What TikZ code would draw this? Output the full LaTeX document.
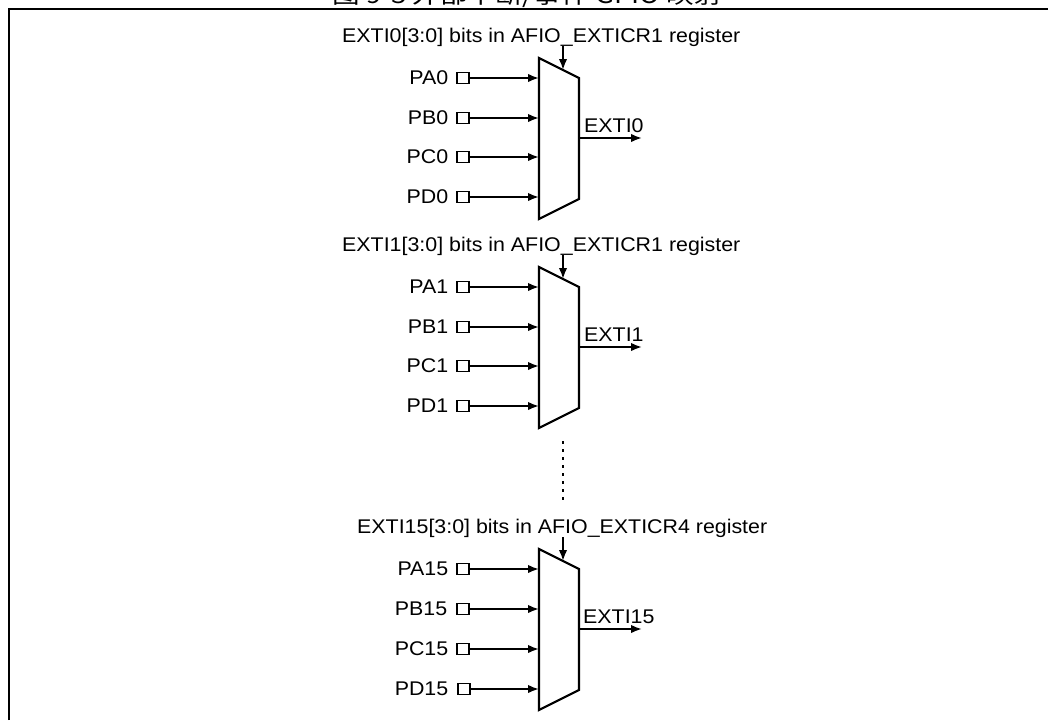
\documentclass[tikz,border=0pt]{standalone}
\usepackage{fontspec}
\setmainfont{Liberation Sans}[FakeStretch=1.08]
\newfontfamily\cjkfont{Noto Sans CJK SC}[FakeStretch=1.2]
\usetikzlibrary{arrows.meta, positioning, calc}

\begin{document}
\begin{tikzpicture}[x=1pt, y=-1pt,
  sig/.style={font=\fontsize{19.8}{21}\selectfont, inner sep=0pt},
  port/.style={sig, anchor=east},
  sel/.style={sig, anchor=base west},
  pad/.style={draw, fill=white, line width=1.1pt, minimum width=12pt, minimum height=11pt, inner sep=0pt},
  mux/.style={line width=2.2pt, line join=miter},
  line/.style={line width=1.9pt, -{Latex[length=11pt, width=8.5pt]}},
  dots/.style={line width=2.4pt, dash pattern=on 3pt off 5pt},
  frame/.style={line width=2.2pt}
]
\useasboundingbox (0,0) rectangle (1048,720);

% Titulo (cortado por el borde)
\begin{scope}
  \clip (0,0) rectangle (1048,720);
  \node[font=\cjkfont\fontsize{23}{25}\selectfont, inner sep=0pt, anchor=base] (title) at (527,3) {图 9-3 外部中断/事件 GPIO 映射};
\end{scope}
\draw[frame] (9,720) -- (9,9) -- (1048,9);

% Multiplexor EXTI0
\coordinate (mux0) at (539,58);
\draw[mux] (mux0) -- ++(40,20) -- ++(0,121) -- ++(-40,20) -- cycle;
\node[sel] (sel0) at (342,42) {EXTI0[3:0] bits in AFIO\_EXTICR1 register};
\node[pad] (pa0p) at (463,78) {};
\node[pad] (pb0p) at (463,118) {};
\node[pad] (pc0p) at (463,157) {};
\node[pad] (pd0p) at (463,197) {};
\node[port, left=8pt of pa0p] (pa0) {PA0};
\node[port, left=8pt of pb0p] (pb0) {PB0};
\node[port, left=8pt of pc0p] (pc0) {PC0};
\node[port, left=8pt of pd0p] (pd0) {PD0};
\draw[line] (pa0p.east) -- (pa0p -| mux0);
\draw[line] (pb0p.east) -- (pb0p -| mux0);
\draw[line] (pc0p.east) -- (pc0p -| mux0);
\draw[line] (pd0p.east) -- (pd0p -| mux0);
\draw[line] (sel0.south -| {$(mux0)+(24,0)$}) -- ($(mux0)+(24,12)$);
\coordinate (out0) at (642,138);
\node[sig, anchor=base west] (exti0) at (584,132) {EXTI0};
\draw[line] ($(mux0)+(40,80)$) -- (out0);

% Multiplexor EXTI1
\coordinate (mux1) at (539,267);
\draw[mux] (mux1) -- ++(40,20) -- ++(0,121) -- ++(-40,20) -- cycle;
\node[sel] (sel1) at (342,251) {EXTI1[3:0] bits in AFIO\_EXTICR1 register};
\node[pad] (pa1p) at (463,287) {};
\node[pad] (pb1p) at (463,327) {};
\node[pad] (pc1p) at (463,366) {};
\node[pad] (pd1p) at (463,406) {};
\node[port, left=8pt of pa1p] (pa1) {PA1};
\node[port, left=8pt of pb1p] (pb1) {PB1};
\node[port, left=8pt of pc1p] (pc1) {PC1};
\node[port, left=8pt of pd1p] (pd1) {PD1};
\draw[line] (pa1p.east) -- (pa1p -| mux1);
\draw[line] (pb1p.east) -- (pb1p -| mux1);
\draw[line] (pc1p.east) -- (pc1p -| mux1);
\draw[line] (pd1p.east) -- (pd1p -| mux1);
\draw[line] (sel1.south -| {$(mux1)+(24,0)$}) -- ($(mux1)+(24,12)$);
\coordinate (out1) at (642,347);
\node[sig, anchor=base west] (exti1) at (584,341) {EXTI1};
\draw[line] ($(mux1)+(40,80)$) -- (out1);

% Puntos suspensivos
\coordinate (gap1) at (563,441);
\coordinate (gap15) at (563,503);
\draw[dots] (gap1) -- (gap15);

% Multiplexor EXTI15
\coordinate (mux15) at (539,549);
\draw[mux] (mux15) -- ++(40,20) -- ++(0,121) -- ++(-40,20) -- cycle;
\node[sel] (sel15) at (357,533) {EXTI15[3:0] bits in AFIO\_EXTICR4 register};
\node[pad] (pa15p) at (463,569) {};
\node[pad] (pb15p) at (463,609) {};
\node[pad] (pc15p) at (463,649) {};
\node[pad] (pd15p) at (464,689) {};
\node[port, left=8pt of pa15p] (pa15) {PA15};
\node[port, left=9pt of pb15p] (pb15) {PB15};
\node[port, left=8pt of pc15p] (pc15) {PC15};
\node[port, left=9pt of pd15p] (pd15) {PD15};
\draw[line] (pa15p.east) -- (pa15p -| mux15);
\draw[line] (pb15p.east) -- (pb15p -| mux15);
\draw[line] (pc15p.east) -- (pc15p -| mux15);
\draw[line] (pd15p.east) -- (pd15p -| mux15);
\draw[line] (sel15.south -| {$(mux15)+(24,0)$}) -- ($(mux15)+(24,12)$);
\coordinate (out15) at (642,629);
\node[sig, anchor=base west] (exti15) at (583,623) {EXTI15};
\draw[line] ($(mux15)+(40,80)$) -- (out15);

\end{tikzpicture}
\end{document}
